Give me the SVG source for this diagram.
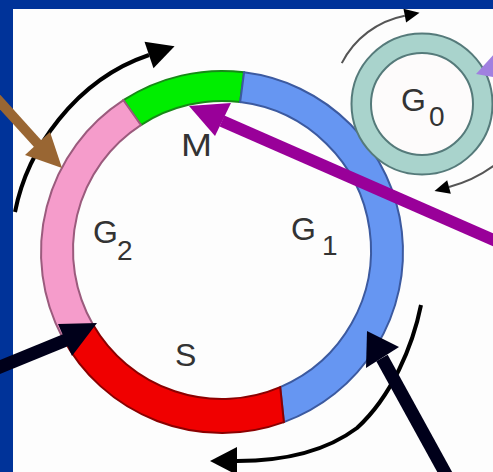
<svg xmlns="http://www.w3.org/2000/svg" width="493" height="472" viewBox="0 0 493 472">
<style>
.lbl{font-family:"Liberation Sans",Arial,sans-serif;font-size:32px;fill:#333}
.sub{font-size:28px}
.cyc{fill:none;stroke:#000;stroke-width:4}
.g0a{fill:none;stroke:#555;stroke-width:2}
.seg{stroke-width:2}
</style>
<defs>
<marker id="hb" markerUnits="userSpaceOnUse" viewBox="0 0 28 28" markerWidth="28" markerHeight="28" refX="0" refY="14" orient="auto" overflow="visible"><path d="M0,0 L27,14 L0,28 z" fill="#000"/></marker>
<marker id="hs" markerUnits="userSpaceOnUse" viewBox="0 0 16 14" markerWidth="16" markerHeight="14" refX="0" refY="7" orient="auto" overflow="visible"><path d="M0,0 L15,7 L0,14 z" fill="#000"/></marker>
</defs>
<rect x="0" y="0" width="493" height="472" fill="#fdfdfd"/>
<rect x="0" y="0" width="493" height="9" fill="#003399"/>
<rect x="0" y="0" width="13" height="472" fill="#003399"/>

<g id="cycle-ring">
<path id="seg-M" class="seg" fill="#00ee00" stroke="#168a16" d="M123.42,100.20 A181,181 0 0 1 244.06,72.35 L240.16,102.11 A149,149 0 0 0 140.85,125.04 Z"/>
<path id="seg-G1" class="seg" fill="#6696f2" stroke="#3c5aa0" d="M244.06,72.35 A181,181 0 0 1 283.91,422.08 L280.22,387.15 A149,149 0 0 0 240.16,102.11 Z"/>
<path id="seg-S" class="seg" fill="#f00000" stroke="#8b0000" d="M283.91,422.08 A181,181 0 0 1 62.19,336.97 L92.96,324.5 A149,149 0 0 0 280.22,387.15 Z"/>
<path id="seg-G2" class="seg" fill="#f59ccb" stroke="#9b5b7d" d="M62.19,336.97 A181,181 0 0 1 123.42,100.20 L140.85,125.04 A149,149 0 0 0 92.96,324.5 Z"/>
</g>

<g id="g0-ring">
<circle cx="422" cy="104" r="70.5" fill="#a9d3cc" stroke="#557a7a" stroke-width="2"/>
<circle cx="422" cy="104" r="51" fill="#fdfbfb" stroke="#557a7a" stroke-width="2"/>
</g>

<g id="labels">
<text class="lbl" x="181" y="156" textLength="31" lengthAdjust="spacingAndGlyphs">M</text>
<text class="lbl" x="93" y="243">G<tspan class="sub" dx="-1" dy="17">2</tspan></text>
<text class="lbl" x="291" y="240">G<tspan class="sub" dx="6" dy="15">1</tspan></text>
<text class="lbl" x="175" y="366">S</text>
<text class="lbl" x="401" y="111">G<tspan class="sub" dx="3" dy="15">0</tspan></text>
</g>

<g id="connectors">
<path class="cyc" d="M15,212 C27,150 75,80 149,55" marker-end="url(#hb)"/>
<path class="cyc" d="M421,305 C413,345 392,396 357,428 C325,452 282,461 237,461" marker-end="url(#hb)"/>
<path class="g0a" d="M341.8,63.1 A90,90 0 0 1 404.8,15.7" marker-end="url(#hs)"/>
<path class="g0a" d="M496,164 Q475,180 449,187" marker-end="url(#hs)"/>

<g id="arrow-brown">
<line x1="-10" y1="91" x2="38" y2="144" stroke="#996633" stroke-width="10"/>
<polygon points="62,168 25,155 50,132" fill="#996633"/>
</g>
<g id="arrow-purple">
<line x1="222" y1="121" x2="505" y2="245" stroke="#990099" stroke-width="12"/>
<polygon points="189,106 231,103 215,136" fill="#990099"/>
</g>
<g id="arrow-black-left">
<line x1="-5" y1="369" x2="66" y2="340" stroke="#00001a" stroke-width="13"/>
<polygon points="97,323 58,324 72,356" fill="#00001a"/>
</g>
<g id="arrow-black-right">
<line x1="448" y1="478" x2="382" y2="358" stroke="#00001a" stroke-width="13"/>
<polygon points="367,331 366,368 399,347" fill="#00001a"/>
</g>
<g id="arrow-lavender">
<polygon points="476,74 496,52 498,78" fill="#a080e0"/>
</g>
</g>
</svg>
